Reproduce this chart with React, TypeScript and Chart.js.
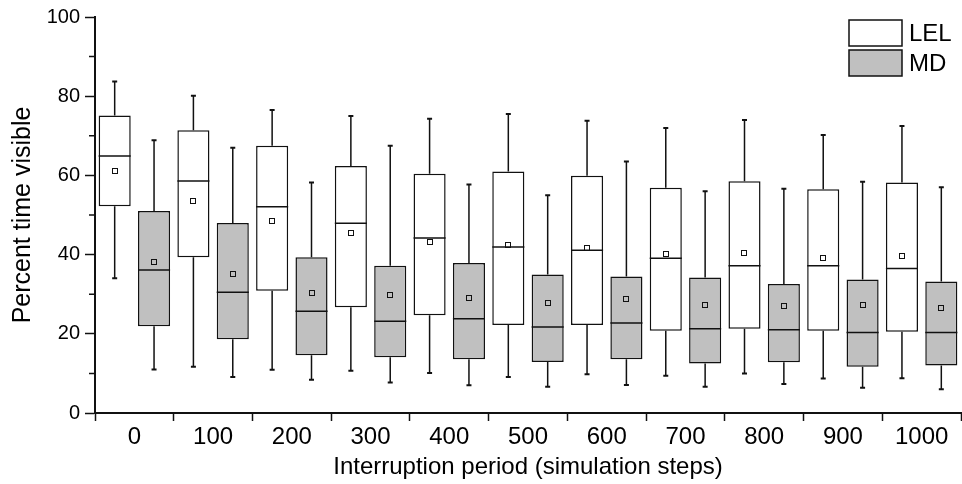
import React, { useEffect, useRef } from 'react';
import { Chart, registerables } from 'chart.js';

Chart.register(...registerables);

// ---- Data ----
const categories = ['0', '100', '200', '300', '400', '500', '600', '700', '800', '900', '1000'];

const lelMin = [34.0, 11.7, 10.9, 10.7, 10.1, 9.1, 9.8, 9.4, 10.0, 8.7, 8.8];
const lelQ1 = [52.2, 39.3, 30.9, 26.7, 24.7, 22.2, 22.2, 20.8, 21.3, 20.8, 20.5];
const lelMedian = [64.9, 58.6, 52.1, 47.9, 44.2, 41.9, 41.1, 39.1, 37.2, 37.2, 36.5];
const lelMean = [61.0, 53.5, 48.5, 45.5, 43.3, 42.4, 41.7, 40.1, 40.3, 39.2, 39.7];
const lelQ3 = [75.1, 71.4, 67.5, 62.4, 60.4, 61.0, 59.9, 56.9, 58.5, 56.5, 58.2];
const lelMax = [83.7, 80.1, 76.5, 75.0, 74.3, 75.5, 73.8, 72.0, 74.0, 70.2, 72.5];

const mdMin = [11.0, 9.1, 8.4, 7.7, 7.0, 6.6, 7.1, 6.6, 7.3, 6.4, 6.0];
const mdQ1 = [21.9, 18.6, 14.6, 14.1, 13.6, 12.9, 13.6, 12.5, 12.8, 11.7, 12.0];
const mdMedian = [36.1, 30.5, 25.7, 23.2, 23.8, 21.7, 22.7, 21.3, 21.0, 20.3, 20.3];
const mdMean = [38.2, 35.2, 30.4, 29.9, 29.0, 27.7, 28.7, 27.2, 27.0, 27.2, 26.6];
const mdQ3 = [51.0, 48.0, 39.3, 37.2, 37.9, 35.0, 34.5, 34.2, 32.6, 33.7, 33.2];
const mdMax = [68.9, 67.0, 58.2, 67.5, 57.7, 55.0, 63.5, 56.0, 56.6, 58.4, 57.0];

const yMajorStep = 20;
const yMinorTicks = [10, 30, 50, 70, 90];

const seriesNames = ['LEL', 'MD'];
const seriesColors = ['#ffffff', '#c0c0c0'];

const stats = [
  { min: lelMin, q1: lelQ1, median: lelMedian, mean: lelMean, q3: lelQ3, max: lelMax },
  { min: mdMin, q1: mdQ1, median: mdMedian, mean: mdMean, q3: mdQ3, max: mdMax },
];

const INK = '#111111';
const FONT = "'Liberation Sans', Arial, Helvetica, sans-serif";

const boxPlugin = {
  id: 'boxWhiskers',
  afterDatasetsDraw(chart: any) {
    const ctx = chart.ctx;
    const ys = chart.scales.y;
    ctx.save();
    ctx.strokeStyle = INK;
    stats.forEach((s, d) => {
      const meta = chart.getDatasetMeta(d);
      meta.data.forEach((bar: any, i: number) => {
        const x = bar.x;
        const w = bar.width;
        const pMax = ys.getPixelForValue(s.max[i]);
        const pQ3 = ys.getPixelForValue(s.q3[i]);
        const pQ1 = ys.getPixelForValue(s.q1[i]);
        const pMin = ys.getPixelForValue(s.min[i]);
        const pMed = ys.getPixelForValue(s.median[i]);
        const pMean = ys.getPixelForValue(s.mean[i]);
        ctx.lineWidth = 1.5;
        ctx.beginPath();
        ctx.moveTo(x, pQ3);
        ctx.lineTo(x, pMax);
        ctx.moveTo(x, pQ1);
        ctx.lineTo(x, pMin);
        ctx.stroke();
        ctx.lineWidth = 2;
        ctx.beginPath();
        ctx.moveTo(x - 2.5, pMax);
        ctx.lineTo(x + 2.5, pMax);
        ctx.moveTo(x - 2.5, pMin);
        ctx.lineTo(x + 2.5, pMin);
        ctx.stroke();
        ctx.lineWidth = 1.5;
        ctx.beginPath();
        ctx.moveTo(x - w / 2, pMed);
        ctx.lineTo(x + w / 2, pMed);
        ctx.stroke();
        ctx.lineWidth = 1;
        ctx.strokeRect(Math.round(x) - 2.5, Math.round(pMean) - 2.5, 5, 5);
      });
    });
    ctx.restore();
  },
};

const minorTickPlugin = {
  id: 'minorTicks',
  afterDraw(chart: any) {
    const ctx = chart.ctx;
    const ys = chart.scales.y;
    const left = chart.chartArea.left;
    ctx.save();
    ctx.strokeStyle = INK;
    ctx.lineWidth = 1.5;
    ctx.beginPath();
    yMinorTicks.forEach((v) => {
      const p = ys.getPixelForValue(v);
      ctx.moveTo(left - 6, p);
      ctx.lineTo(left, p);
    });
    ctx.stroke();
    ctx.restore();
  },
};

const legendPlugin = {
  id: 'boxLegend',
  afterDraw(chart: any) {
    const ctx = chart.ctx;
    const { top, right } = chart.chartArea;
    ctx.save();
    const bx = right - 112;
    const bw = 53;
    const bh = 26;
    seriesNames.forEach((name, i) => {
      const by = top + 3 + i * 30;
      ctx.fillStyle = seriesColors[i];
      ctx.fillRect(bx, by, bw, bh);
      ctx.strokeStyle = INK;
      ctx.lineWidth = 1.5;
      ctx.strokeRect(bx, by, bw, bh);
      ctx.fillStyle = '#000';
      ctx.font = `24px ${FONT}`;
      ctx.textAlign = 'left';
      ctx.textBaseline = 'middle';
      ctx.fillText(name, bx + bw + 7, by + bh / 2 + 1);
    });
    ctx.restore();
  },
};

export default function App() {
  const ref = useRef<HTMLCanvasElement>(null);

  useEffect(() => {
    if (!ref.current) return;
    Chart.defaults.font.family = FONT;
    Chart.defaults.color = '#000';
    const chart = new Chart(ref.current, {
      type: 'bar',
      data: {
        labels: categories,
        datasets: stats.map((s, d) => ({
          label: seriesNames[d],
          data: categories.map((_, i) => [s.q1[i], s.q3[i]]),
          backgroundColor: seriesColors[d],
          borderColor: INK,
          borderWidth: 1.5,
          borderSkipped: false,
          categoryPercentage: 1.0,
          barPercentage: 0.815,
        })),
      } as any,
      options: {
        animation: false,
        responsive: false,
        layout: { padding: { top: 14, right: 1, bottom: 0, left: 0 } },
        plugins: {
          legend: { display: false },
          tooltip: { enabled: false },
        },
        scales: {
          x: {
            grid: {
              display: true,
              drawOnChartArea: false,
              drawTicks: true,
              tickLength: 8,
              tickWidth: 1.5,
              tickColor: INK,
              offset: true,
            },
            border: { display: true, color: INK, width: 2 },
            ticks: {
              font: { size: 24 },
              color: '#000',
              padding: 2,
              maxRotation: 0,
              autoSkip: false,
            },
            title: {
              display: true,
              text: 'Interruption period (simulation steps)',
              font: { size: 24 },
              color: '#000',
              padding: { top: 0, bottom: 2 },
            },
            afterFit: (s: any) => {
              s.height = 71;
            },
          },
          y: {
            min: 0,
            max: 100,
            ticks: {
              stepSize: 10,
              callback: (v: any) => (Number(v) % yMajorStep === 0 ? String(v) : ''),
              font: { size: 20 },
              color: '#000',
              padding: 5,
            },
            grid: {
              drawOnChartArea: false,
              drawTicks: true,
              tickLength: 10,
              tickWidth: 1.5,
              tickColor: (c: any) =>
                c.tick && Number(c.tick.value) % yMajorStep === 0 ? INK : 'rgba(0,0,0,0)',
            },
            border: { display: true, color: INK, width: 2 },
            title: {
              display: true,
              text: 'Percent time visible',
              font: { size: 25 },
              color: '#000',
              padding: { top: 8, bottom: 0 },
            },
            afterFit: (s: any) => {
              s.width = 95;
            },
          },
        },
      } as any,
      plugins: [boxPlugin, minorTickPlugin, legendPlugin],
    });
    return () => chart.destroy();
  }, []);

  return (
    <div style={{ position: 'fixed', left: 0, top: 0, width: 962, height: 484, background: '#fff' }}>
      <canvas ref={ref} width={962} height={484} style={{ display: 'block' }} />
    </div>
  );
}
